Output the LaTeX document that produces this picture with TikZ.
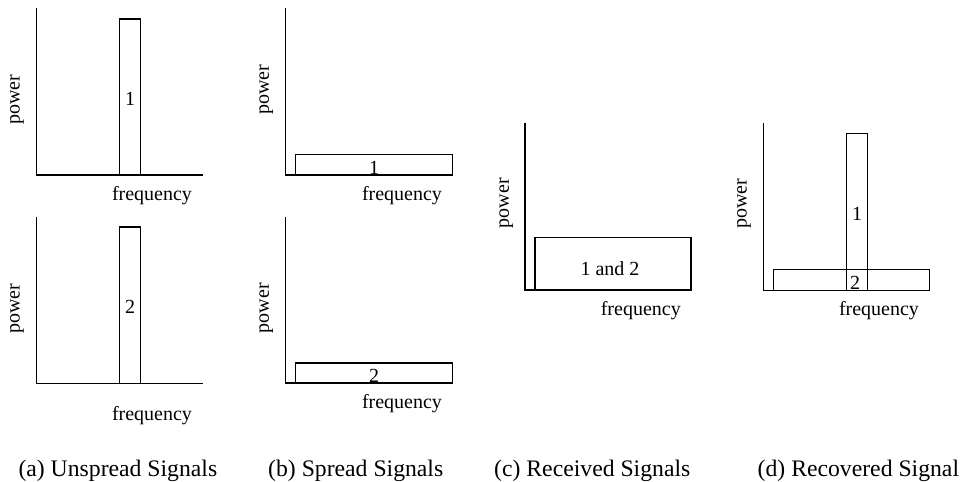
\documentclass[tikz,border=0pt]{standalone}
\usepackage{fontspec}
\setmainfont{Liberation Serif}
\newcommand{\plotfont}{\fontsize{20}{24}\selectfont}
\newcommand{\capfont}{\fontsize{23.7}{28}\selectfont}
\begin{document}
\begin{tikzpicture}[x=1pt,y=-1pt,
  axis/.style={line width=1.2pt, line join=miter},
  band/.style={draw, line width=1.2pt},
  lbl/.style={font=\plotfont, inner sep=0pt},
  vlbl/.style={lbl, rotate=90},
  captext/.style={font=\capfont, inner sep=0pt, anchor=base west}]
\useasboundingbox (0,0) rectangle (962,482);

% (a) unspread, signal 1
\draw[axis] (36.5,8) |- (203,175);
\draw[band] (119.7,19) rectangle (140.7,175);
\node[lbl] (a1) at (130.2,99) {1};
\node[vlbl] (a1p) at (17,100) {power};
\node[lbl] (a1f) at (152,196) {frequency};

% (a) unspread, signal 2
\draw[axis] (36.5,217) |- (203,383.5);
\draw[band] (119.7,227) rectangle (140.7,383.5);
\node[lbl] (a2) at (130.2,306.7) {2};
\node[vlbl] (a2p) at (17,309) {power};
\node[lbl] (a2f) at (152,416) {frequency};

% (b) spread, signal 1
\draw[axis] (285.7,8) |- (452.7,175);
\draw[band] (295.7,154.3) rectangle (452.7,175);
\node[lbl] (b1) at (374,168.3) {1};
\node[vlbl] (b1p) at (266.3,90) {power};
\node[lbl] (b1f) at (402,196) {frequency};

% (b) spread, signal 2
\draw[axis] (285.7,217) |- (452.7,383);
\draw[band] (295.7,363) rectangle (452.7,383);
\node[lbl] (b2) at (374,376.3) {2};
\node[vlbl] (b2p) at (266.3,308.3) {power};
\node[lbl] (b2f) at (402,404) {frequency};

% (c) received: both spread signals together
\draw[axis] (525,122.7) |- (691,290);
\draw[band] (535,237.7) rectangle (691,290);
\node[lbl] (c12) at (610,269) {1 and 2};
\node[vlbl] (cp) at (506.3,203.3) {power};
\node[lbl] (cf) at (640.8,310.8) {frequency};

% (d) recovered: despread 1 over residual 2
\draw[axis] (763.3,123.3) |- (929.3,290.3);
\draw[band] (773.3,269.3) rectangle (929.3,290.3);
\draw[band] (846.3,133.3) rectangle (867.7,290.3);
\node[lbl] (d1) at (857,214) {1};
\node[lbl] (d2) at (855,283.3) {2};
\node[vlbl] (dp) at (744,204) {power};
\node[lbl] (df) at (879,310.8) {frequency};

% captions
\node[captext] (capa) at (18.3,476) {(a) Unspread Signals};
\node[captext] (capb) at (268,476) {(b) Spread Signals};
\node[captext] (capc) at (494,476) {(c) Received Signals};
\node[captext] (capd) at (757.5,476) {(d) Recovered Signal};
\end{tikzpicture}
\end{document}
